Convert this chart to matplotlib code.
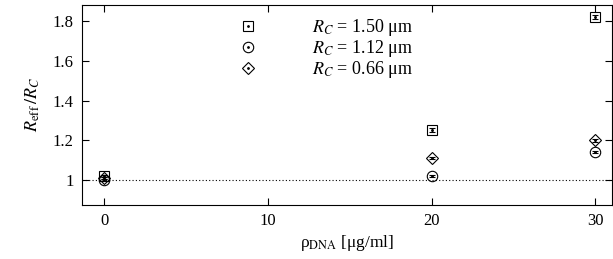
import matplotlib
matplotlib.use("Agg")
import matplotlib.pyplot as plt
from matplotlib.lines import Line2D

plt.rcParams['font.family'] = ['Liberation Serif', 'DejaVu Serif']
plt.rcParams['mathtext.fontset'] = 'stix'

rho = [0, 20, 30]
r150 = [1.02, 1.25, 1.82]
r150_err = [0.005, 0.01, 0.012]
r112 = [1.00, 1.02, 1.14]
r112_err = [0.004, 0.005, 0.006]
r066 = [1.01, 1.11, 1.20]
r066_err = [0.004, 0.006, 0.006]

fig = plt.figure(figsize=(6.13, 2.59), dpi=100)
ax = fig.add_axes([0.1338, 0.2085, 0.864, 0.772])

ax.axhline(1.0, color='k', lw=0.8, ls=(0, (1, 2)))

series = [(r150, r150_err, 's', 7, r'$R_C$ = 1.50 μm'),
          (r112, r112_err, 'o', 7.5, r'$R_C$ = 1.12 μm'),
          (r066, r066_err, 'D', 6, r'$R_C$ = 0.66 μm')]
handles = []
labels = []
for vals, err, m, ms, lab in series:
    ax.errorbar(rho, vals, yerr=err, fmt=m, ms=ms, mfc='none', mec='k', mew=0.8,
                ecolor='k', elinewidth=1, capsize=2)
    ax.plot(rho, vals, '.', color='k', ms=2)
    h1 = Line2D([], [], ls='none', marker=m, ms=ms, mfc='none', mec='k', mew=0.8)
    h2 = Line2D([], [], ls='none', marker='.', ms=2, color='k')
    handles.append((h1, h2))
    labels.append(lab)

ax.set_xlim(-1.35, 31.0)
ax.set_ylim(0.875, 1.88)
ax.set_xticks([0, 10, 20, 30])
ax.set_yticks([1, 1.2, 1.4, 1.6, 1.8])
ax.set_yticklabels(['1', '1.2', '1.4', '1.6', '1.8'])
ax.tick_params(direction='in', top=True, right=True, labelsize=12, length=5, pad=6)
ax.set_xlabel(r'ρ$_{\rm DNA}$ [μg/ml]', fontsize=12.5, labelpad=3)
ax.set_ylabel(r'$R_{\rm eff}\,/R_C$', fontsize=13, labelpad=8)

ax.legend(handles, labels, loc='upper left', bbox_to_anchor=(0.27, 1.01), frameon=False,
          fontsize=13, handlelength=1.0, handletextpad=3.0, labelspacing=0.0, borderpad=0.3)

fig.savefig('out.png', dpi=100)
